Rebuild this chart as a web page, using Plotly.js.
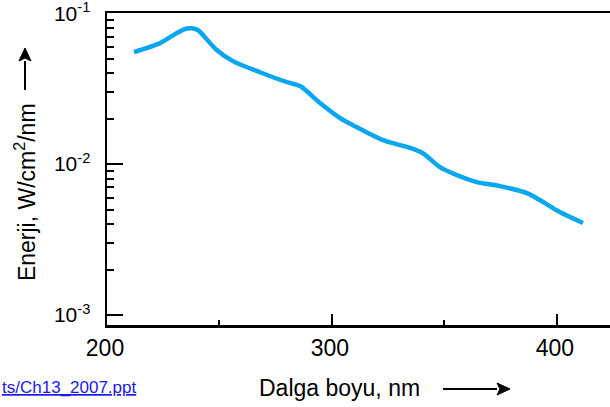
<!DOCTYPE html>
<html>
<head>
<meta charset="utf-8">
<script src="https://cdn.plot.ly/plotly-3.0.1.min.js"></script>
<style>html,body{margin:0;padding:0;background:#fff;}#chart{width:610px;height:407px;}</style>
</head>
<body>
<div id="chart"></div>
<script>
// Wavelength (nm)
const wavelength = [212.0, 223.6, 229.5, 234.5, 237.5, 240.5, 244.0, 248.5, 256.0, 268.0, 280.0, 285.8, 294.7, 303.6, 309.3, 322.7, 334.7, 340.4, 348.0, 355.6, 364.4, 374.7, 386.7, 392.4, 401.3, 411.6];
// Energy (W/cm^2/nm)
const energy = [0.0552, 0.0633, 0.0715, 0.0785, 0.0795, 0.0770, 0.0680, 0.0575, 0.0481, 0.0406, 0.0349, 0.0329, 0.0254, 0.0202, 0.0181, 0.0144, 0.0128, 0.0118, 0.00955, 0.00845, 0.0076, 0.00715, 0.00642, 0.00578, 0.00481, 0.00407];

const xTickVals = [200, 300, 400];
const xTickText = ["200", "300", "400"];
const yTickVals = [0.001, 0.01, 0.1];
const yTickText = ["10<sup>-3</sup>", "10<sup>-2</sup>", "10<sup>-1</sup>"];

const xTitle = "Dalga boyu, nm";
const yTitle = "Enerji, W/cm<sup>2</sup>/nm";
const linkText = "ts/Ch13_2007.ppt";

const yMinor = [];
for (const d of [-3, -2]) for (let k = 2; k <= 9; k++) yMinor.push(k * Math.pow(10, d));

const FONT = '"Liberation Sans", Arial, sans-serif';

// plot area in pixels: left 107, right 610, top 13, bottom 325
const PW = 503, PH = 312;
const px = v => (v - 107) / PW;      // pixel x -> paper x
const py = v => (325 - v) / PH;      // pixel y -> paper y

function arrowShapes(x0, y0, x1, y1) {
  const dx = x1 - x0, dy = y1 - y0, L = Math.hypot(dx, dy);
  const ux = dx / L, uy = dy / L, hl = 13, hw = 6;
  const bx = x1 - ux * hl, by = y1 - uy * hl;
  const lx = bx - uy * hw, ly = by + ux * hw, rx = bx + uy * hw, ry = by - ux * hw;
  return [
    {type: 'line', xref: 'paper', yref: 'paper', x0: px(x0), y0: py(y0), x1: px(bx), y1: py(by), line: {color: '#000', width: 2}},
    {type: 'path', xref: 'paper', yref: 'paper',
     path: `M ${px(x1)},${py(y1)} L ${px(lx)},${py(ly)} L ${px(bx + ux * 3)},${py(by + uy * 3)} L ${px(rx)},${py(ry)} Z`,
     fillcolor: '#000', line: {color: '#000', width: 1}}
  ];
}

const trace = {
  x: wavelength, y: energy, type: 'scatter', mode: 'lines',
  line: {color: '#0aa6f0', width: 4.5, shape: 'spline', smoothing: 0.8},
  hoverinfo: 'skip'
};

const layout = {
  width: 610, height: 407,
  margin: {l: 107, r: 0, t: 13, b: 82},
  paper_bgcolor: '#ffffff', plot_bgcolor: '#ffffff',
  showlegend: false,
  font: {family: FONT, color: '#000', size: 22},
  xaxis: {
    range: [200, 423.6], showgrid: false, zeroline: false,
    showline: true, linecolor: '#000', linewidth: 2.5, mirror: true,
    tickmode: 'array', tickvals: xTickVals, ticktext: xTickText,
    ticks: 'inside', ticklen: 11, tickwidth: 2, tickcolor: '#000',
    minor: {tickmode: 'linear', tick0: 250, dtick: 100, ticks: 'inside', ticklen: 5, tickwidth: 2, tickcolor: '#000', showgrid: false},
    tickfont: {family: FONT, size: 23, color: '#000'},
    ticklabelstandoff: 1, ticklabelshift: -2, ticklabeloverflow: 'allow'
  },
  yaxis: {
    type: 'log', range: [-3.066, -0.999], showgrid: false, zeroline: false,
    showline: true, linecolor: '#000', linewidth: 2.5, mirror: false,
    tickmode: 'array', tickvals: yTickVals, ticktext: yTickText,
    ticks: 'inside', ticklen: 16, tickwidth: 2, tickcolor: '#000',
    minor: {tickmode: 'array', tickvals: yMinor, ticks: 'inside', ticklen: 7, tickwidth: 2, tickcolor: '#000', showgrid: false},
    tickfont: {family: FONT, size: 21, color: '#000'},
    ticklabelstandoff: 10, ticklabeloverflow: 'allow'
  },
  shapes: [].concat(arrowShapes(443, 389, 510, 389), arrowShapes(25, 90, 25, 48)),
  annotations: [
    {text: xTitle, xref: 'paper', yref: 'paper', x: 0.463, y: -0.202, xanchor: 'center', yanchor: 'middle', showarrow: false, font: {family: FONT, size: 23, color: '#000'}},
    {text: yTitle, xref: 'paper', yref: 'paper', x: -0.163, y: 0.426, xanchor: 'center', yanchor: 'middle', textangle: -90, showarrow: false, font: {family: FONT, size: 23, color: '#000'}},
    {text: '<span style="text-decoration:underline">' + linkText + '</span>', xref: 'paper', yref: 'paper', x: 0.0616, y: -0.199, xanchor: 'right', yanchor: 'middle', showarrow: false, font: {family: FONT, size: 17, color: '#1a1ae6'}}
  ]
};

Plotly.newPlot('chart', [trace], layout, {displayModeBar: false, staticPlot: true});
</script>
</body>
</html>
